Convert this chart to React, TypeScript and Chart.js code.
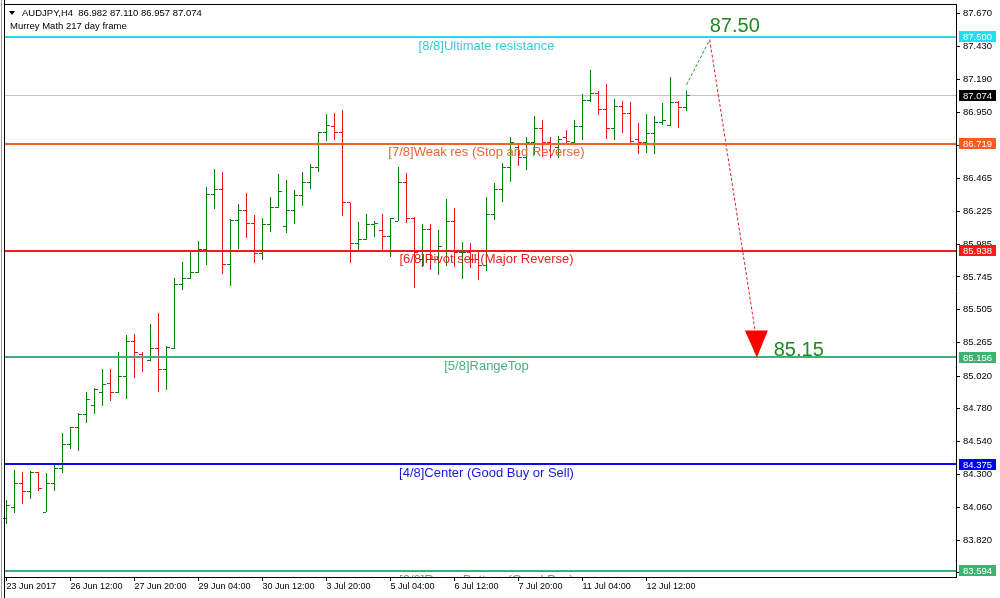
import React, { useEffect, useRef } from 'react';
import { Chart, registerables } from 'chart.js';

Chart.register(...registerables);

// ---------- data ----------
const SYMBOL = 'AUDJPY,H4';
const HEADER_OHLC = ['86.982', '87.110', '86.957', '87.074'];
const INDICATOR_NAME = 'Murrey Math 217 day frame';

const OPEN = [
  83.981, 84.062, 84.237, 84.179, 84.311, 84.025, 84.237, 84.340, 84.516, 84.640,
  84.735, 84.808, 84.903, 84.962, 84.896, 85.013, 85.269, 85.174, 85.137, 85.218,
  85.071, 85.218, 85.693, 85.737, 85.774, 85.949, 86.351, 86.388, 85.839, 86.161,
  86.234, 86.139, 85.913, 86.132, 86.256, 86.117, 86.234, 86.344, 86.439, 86.549,
  86.798, 86.842, 86.798, 86.286, 85.993, 86.022, 86.132, 86.088, 86.037, 86.154,
  86.432, 86.169, 85.876, 86.095, 85.876, 85.935, 86.147, 85.920, 85.927, 85.869,
  85.832, 86.198, 86.388, 86.542, 86.695, 86.615, 86.725, 86.834, 86.725, 86.688,
  86.768, 86.725, 86.842, 87.039, 87.090, 86.973, 86.834, 86.995, 86.944, 86.747,
  86.725, 86.791, 86.871, 86.856, 87.024, 86.982,
];
const HIGH = [
  84.113, 84.333, 84.318, 84.325, 84.318, 84.311, 84.384, 84.603, 84.647, 84.750,
  84.903, 84.933, 85.071, 85.071, 85.196, 85.320, 85.328, 85.196, 85.401, 85.481,
  85.240, 85.737, 85.854, 85.927, 86.008, 86.403, 86.534, 86.512, 86.169, 86.278,
  86.359, 86.198, 86.176, 86.330, 86.498, 86.454, 86.381, 86.512, 86.571, 86.805,
  86.937, 86.944, 86.966, 86.290, 86.147, 86.205, 86.154, 86.205, 86.176, 86.549,
  86.505, 86.183, 86.132, 86.132, 86.088, 86.315, 86.249, 86.000, 85.993, 85.927,
  86.330, 86.432, 86.578, 86.768, 86.710, 86.768, 86.922, 86.893, 86.768, 86.776,
  86.820, 86.893, 87.083, 87.259, 87.105, 87.156, 87.046, 87.032, 87.024, 86.871,
  86.937, 86.922, 87.017, 87.207, 87.032, 87.110,
];
const LOW = [
  83.937, 84.018, 84.084, 84.120, 84.179, 84.025, 84.179, 84.311, 84.487, 84.472,
  84.676, 84.742, 84.801, 84.837, 84.896, 84.852, 85.006, 85.049, 85.130, 84.903,
  84.918, 85.218, 85.649, 85.730, 85.774, 85.832, 86.242, 85.767, 85.679, 85.949,
  86.030, 85.847, 85.869, 86.074, 86.249, 86.066, 86.132, 86.264, 86.388, 86.512,
  86.739, 86.747, 86.191, 85.847, 85.942, 86.015, 86.037, 85.942, 85.891, 86.154,
  86.139, 85.664, 85.818, 85.796, 85.759, 85.825, 85.818, 85.730, 85.810, 85.723,
  85.788, 86.161, 86.293, 86.439, 86.556, 86.527, 86.637, 86.622, 86.615, 86.615,
  86.710, 86.710, 86.747, 87.024, 86.929, 86.754, 86.747, 86.798, 86.725, 86.644,
  86.651, 86.644, 86.856, 86.849, 86.834, 86.957,
];
const CLOSE = [
  84.076, 84.237, 84.172, 84.311, 84.194, 84.237, 84.340, 84.516, 84.640, 84.735,
  84.845, 84.925, 84.955, 84.896, 85.013, 85.269, 85.189, 85.152, 85.218, 85.071,
  85.232, 85.693, 85.737, 85.774, 85.949, 86.351, 86.388, 85.839, 86.161, 86.234,
  86.139, 85.913, 86.132, 86.256, 86.373, 86.234, 86.344, 86.439, 86.549, 86.798,
  86.856, 86.798, 86.286, 85.993, 86.022, 86.125, 86.139, 86.037, 86.169, 86.432,
  86.169, 85.927, 86.095, 85.876, 85.964, 86.147, 85.920, 85.927, 85.869, 85.832,
  86.198, 86.388, 86.542, 86.725, 86.622, 86.725, 86.834, 86.725, 86.710, 86.747,
  86.732, 86.842, 87.039, 87.090, 86.973, 86.834, 86.995, 86.944, 86.739, 86.725,
  86.791, 86.878, 86.886, 87.024, 86.981, 87.074,
];

const X_TICK_INDEX = [0, 8, 16, 24, 32, 40, 48, 56, 64, 72, 80];
const X_TICK_LABELS = [
  '23 Jun 2017', '26 Jun 12:00', '27 Jun 20:00', '29 Jun 04:00', '30 Jun 12:00',
  '3 Jul 20:00', '5 Jul 04:00', '6 Jul 12:00', '7 Jul 20:00', '11 Jul 04:00', '12 Jul 12:00',
];
const X_MIN = -0.1875;
const X_MAX = 118.6875;

const Y_TICKS = [
  87.67, 87.43, 87.19, 86.95, 86.705, 86.465, 86.225, 85.985, 85.745,
  85.505, 85.265, 85.02, 84.78, 84.54, 84.3, 84.06, 83.82, 83.58,
];
const Y_MIN = 83.55;
const Y_MAX = 87.734;

const LEVEL_VALUES = [87.5, 86.719, 85.938, 85.156, 84.375, 83.594];
const LEVEL_LABELS = [
  '[8/8]Ultimate resistance',
  '[7/8]Weak res (Stop and Reverse)',
  '[6/8]Pivot sell (Major Reverse)',
  '[5/8]RangeTop',
  '[4/8]Center (Good Buy or Sell)',
  '[3/8]RangeBottom (Good Buy)',
];
const LEVEL_LABEL_INDEX = 60;
const CURRENT_PRICE = 87.074;

const PROJ_UP = [
  { x: 85, y: 87.15 },
  { x: 87.9, y: 87.48 },
];
const PROJ_DOWN = [
  { x: 87.9, y: 87.48 },
  { x: 93.56, y: 85.357 },
];
const ARROW_TIP = { x: 93.8, y: 85.156 };
const TARGET_LABELS = ['87.50', '85.15'];
const TARGET_X = [87.9, 95.9];
const TARGET_Y = [87.5, 85.156];

// ---------- styles ----------
const BULL = '#0b7d0b';
const BEAR = '#e31b1b';
const LEVEL_LINE_COLORS = ['#22dde8', '#ec6228', '#ee1c1c', '#3fae78', '#0a0aee', '#3fae78'];
const LEVEL_TEXT_COLORS = ['#3cc8d8', '#e8643c', '#e52424', '#4caf80', '#1818d8', '#4caf80'];
const LEVEL_BOX_COLORS = ['#1fe0ef', '#ff5a1f', '#ff1a1a', '#3cb371', '#0000ff', '#3cb371'];
const FONT = '"Liberation Sans", Arial, sans-serif';

const overlayPlugin = {
  id: 'mt4overlay',
  beforeDatasetsDraw(chart: any) {
    const { ctx, chartArea, scales } = chart;
    const y = Math.floor(scales.y.getPixelForValue(CURRENT_PRICE));
    ctx.save();
    ctx.fillStyle = '#c4c4c4';
    ctx.fillRect(chartArea.left, y, chartArea.right - chartArea.left, 1);
    ctx.restore();
  },
  afterDatasetsDraw(chart: any) {
    const { ctx, chartArea, scales } = chart;
    const ys = scales.y;
    const xs = scales.x;
    ctx.save();
    // open / close ticks
    const meta = chart.getDatasetMeta(0);
    meta.data.forEach((el: any, i: number) => {
      const col = Math.floor(el.x);
      ctx.fillStyle = CLOSE[i] >= OPEN[i] ? BULL : BEAR;
      const yo = Math.floor(ys.getPixelForValue(OPEN[i]));
      const yc = Math.floor(ys.getPixelForValue(CLOSE[i]));
      ctx.fillRect(col - 3, yo, 3, 1);
      ctx.fillRect(col + 1, yc, 3, 1);
    });
    // levels
    ctx.beginPath();
    ctx.rect(chartArea.left, chartArea.top, chartArea.right - chartArea.left, chartArea.bottom - chartArea.top);
    ctx.clip();
    LEVEL_VALUES.forEach((v, i) => {
      const py = Math.round(ys.getPixelForValue(v));
      ctx.fillStyle = LEVEL_LINE_COLORS[i];
      ctx.fillRect(chartArea.left, py - 1, chartArea.right - chartArea.left, 2);
    });
    ctx.font = `13px ${FONT}`;
    ctx.textAlign = 'center';
    ctx.textBaseline = 'middle';
    const lx = xs.getPixelForValue(LEVEL_LABEL_INDEX);
    LEVEL_VALUES.forEach((v, i) => {
      const py = ys.getPixelForValue(v);
      ctx.fillStyle = LEVEL_TEXT_COLORS[i];
      ctx.fillText(LEVEL_LABELS[i], lx, py + 9);
    });
    // arrow head
    const tx = xs.getPixelForValue(ARROW_TIP.x);
    const ty = ys.getPixelForValue(ARROW_TIP.y);
    ctx.fillStyle = '#ff0000';
    ctx.beginPath();
    ctx.moveTo(tx, ty);
    ctx.lineTo(tx - 12, ty - 27);
    ctx.lineTo(tx + 11, ty - 27);
    ctx.closePath();
    ctx.fill();
    // target labels
    ctx.font = `20px ${FONT}`;
    ctx.textAlign = 'left';
    ctx.textBaseline = 'alphabetic';
    ctx.fillStyle = '#1f8a1f';
    TARGET_LABELS.forEach((t, i) => {
      const px = xs.getPixelForValue(TARGET_X[i]);
      const py = ys.getPixelForValue(TARGET_Y[i]);
      ctx.fillText(t, px, py - (i === 0 ? 5 : 1));
    });
    ctx.restore();
  },
  afterDraw(chart: any) {
    const { ctx, chartArea, scales } = chart;
    const ys = scales.y;
    ctx.save();
    // frame
    ctx.fillStyle = '#9a9a9a';
    ctx.fillRect(1, 0, 1, chart.height);
    ctx.fillStyle = '#000';
    ctx.fillRect(4, 0, 1, chart.height);
    ctx.fillRect(4, chartArea.top - 1, chartArea.right - 3, 1);
    // price boxes
    ctx.font = `9.5px ${FONT}`;
    ctx.textAlign = 'left';
    ctx.textBaseline = 'middle';
    const boxes = LEVEL_VALUES.map((v, i) => ({ v, c: LEVEL_BOX_COLORS[i] }));
    boxes.push({ v: CURRENT_PRICE, c: '#000000' });
    boxes.forEach((b) => {
      const py = ys.getPixelForValue(b.v);
      const top = Math.floor(py) - 5;
      ctx.fillStyle = b.c;
      ctx.fillRect(chartArea.right + 3, top, 37, 11);
      ctx.fillStyle = '#ffffff';
      ctx.fillText(b.v.toFixed(3), chartArea.right + 7, top + 6);
    });
    // header
    ctx.fillStyle = '#000';
    ctx.beginPath();
    ctx.moveTo(9, 11);
    ctx.lineTo(15, 11);
    ctx.lineTo(12, 15);
    ctx.closePath();
    ctx.fill();
    ctx.font = `9.5px ${FONT}`;
    ctx.textBaseline = 'middle';
    ctx.fillText(`${SYMBOL}  ${HEADER_OHLC.join(' ')}`, 22, 13);
    ctx.fillText(INDICATOR_NAME, 10, 26);
    ctx.restore();
  },
};

export default function App() {
  const canvasRef = useRef<HTMLCanvasElement | null>(null);

  useEffect(() => {
    const canvas = canvasRef.current;
    if (!canvas) return;
    const chart = new Chart(canvas, {
      type: 'bar',
      data: {
        datasets: [
          {
            type: 'bar',
            data: OPEN.map((_, i) => ({ x: i, y: [LOW[i], HIGH[i]] })) as any,
            backgroundColor: OPEN.map((o, i) => (CLOSE[i] >= o ? BULL : BEAR)),
            barThickness: 1,
            borderWidth: 0,
            inflateAmount: 0,
            borderSkipped: false,
          } as any,
          {
            type: 'line',
            data: PROJ_UP as any,
            borderColor: '#2e8b2e',
            borderWidth: 1,
            borderDash: [3, 2],
            pointRadius: 0,
            fill: false,
          } as any,
          {
            type: 'line',
            data: PROJ_DOWN as any,
            borderColor: '#e01e1e',
            borderWidth: 1,
            borderDash: [3, 2],
            pointRadius: 0,
            fill: false,
          } as any,
        ],
      },
      options: {
        animation: false,
        responsive: false,
        devicePixelRatio: 1,
        events: [],
        layout: { padding: { left: 5, top: 5, right: 0, bottom: 0 } },
        plugins: { legend: { display: false }, tooltip: { enabled: false } },
        scales: {
          x: {
            type: 'linear',
            position: 'bottom',
            min: X_MIN,
            max: X_MAX,
            offset: false,
            afterBuildTicks: (s: any) => {
              s.ticks = X_TICK_INDEX.map((v) => ({ value: v }));
            },
            afterFit: (s: any) => {
              s.height = 21;
              s.paddingLeft = 0;
              s.paddingRight = 0;
            },
            ticks: {
              autoSkip: false,
              maxRotation: 0,
              minRotation: 0,
              align: 'start',
              padding: 0,
              color: '#000',
              font: { family: 'Liberation Sans', size: 9 },
              callback: (_v: any, i: number) => X_TICK_LABELS[i],
            },
            grid: { drawOnChartArea: false, drawTicks: true, tickLength: 4, color: '#000', offset: false },
            border: { display: true, color: '#000', width: 1 },
          },
          y: {
            type: 'linear',
            position: 'right',
            min: Y_MIN,
            max: Y_MAX,
            afterBuildTicks: (s: any) => {
              s.ticks = Y_TICKS.map((v) => ({ value: v }));
            },
            afterFit: (s: any) => {
              s.width = 44;
              s.paddingTop = 0;
              s.paddingBottom = 0;
            },
            ticks: {
              padding: 3,
              color: '#000',
              font: { family: 'Liberation Sans', size: 9.5 },
              callback: (v: any) => Number(v).toFixed(3),
            },
            grid: { drawOnChartArea: false, drawTicks: true, tickLength: 4, color: '#000' },
            border: { display: true, color: '#000', width: 1 },
          },
        },
      } as any,
      plugins: [overlayPlugin],
    });
    return () => chart.destroy();
  }, []);

  return (
    <div style={{ position: 'absolute', left: 0, top: 0, width: 1000, height: 598, background: '#fff' }}>
      <canvas ref={canvasRef} width={1000} height={598} style={{ display: 'block' }} />
    </div>
  );
}
